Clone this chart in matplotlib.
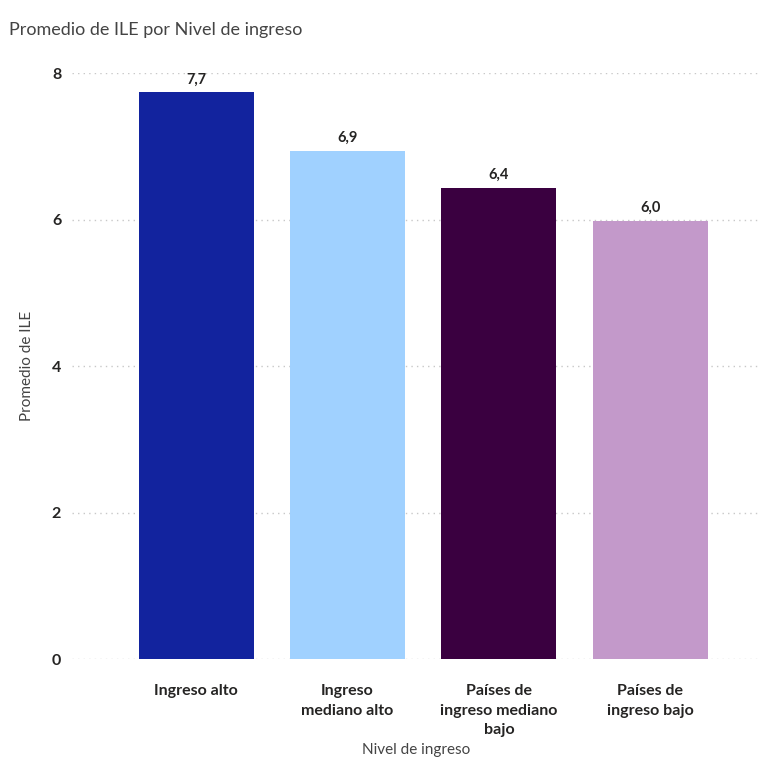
import matplotlib.pyplot as plt

plt.rcParams['font.family'] = ['Lato', 'DejaVu Sans']

# datos
niveles = ['Ingreso alto', 'Ingreso\nmediano alto', 'Países de\ningreso mediano\nbajo', 'Países de\ningreso bajo']
promedio_ile = [7.74, 6.94, 6.43, 5.98]
colores = ['#12239E', '#A0D1FF', '#3A0040', '#C399CA']

fig = plt.figure(figsize=(7.69, 7.62), dpi=100)
ax = fig.add_axes([0.094, 0.135, 0.895, 0.769])

x = range(len(niveles))
bars = ax.bar(x, promedio_ile, width=0.76, color=colores, zorder=2)

for b, v in zip(bars, promedio_ile):
    ax.text(b.get_x() + b.get_width() / 2, v + 0.08, f'{v:.1f}'.replace('.', ','),
            ha='center', va='bottom', fontsize=10.5, fontweight='bold', color='#252423')

ax.set_xlim(-0.82, 3.73)
ax.set_ylim(0, 8)
ax.set_yticks([0, 2, 4, 6, 8])
ax.yaxis.grid(True, linestyle=(0, (1, 3)), color='#c8c8c8', linewidth=1, zorder=0)
for s in ax.spines.values():
    s.set_visible(False)
ax.tick_params(length=0)
ax.tick_params(axis='y', pad=8)
ax.tick_params(axis='x', pad=18)
ax.set_xticks(list(x))
ax.set_xticklabels(niveles, fontsize=11.5, fontweight='bold', color='#252423', linespacing=1.5)
for t in ax.get_yticklabels():
    t.set_fontsize(11.5)
    t.set_fontweight('bold')
    t.set_color('#252423')

ax.set_ylabel('Promedio de ILE', fontsize=11, color='#444444', labelpad=13)
ax.set_xlabel('Nivel de ingreso', fontsize=11, color='#444444', labelpad=4)
fig.text(0.012, 0.96, 'Promedio de ILE por Nivel de ingreso', fontsize=13, color='#444444', va='center')

fig.savefig('out.png', dpi=100)
